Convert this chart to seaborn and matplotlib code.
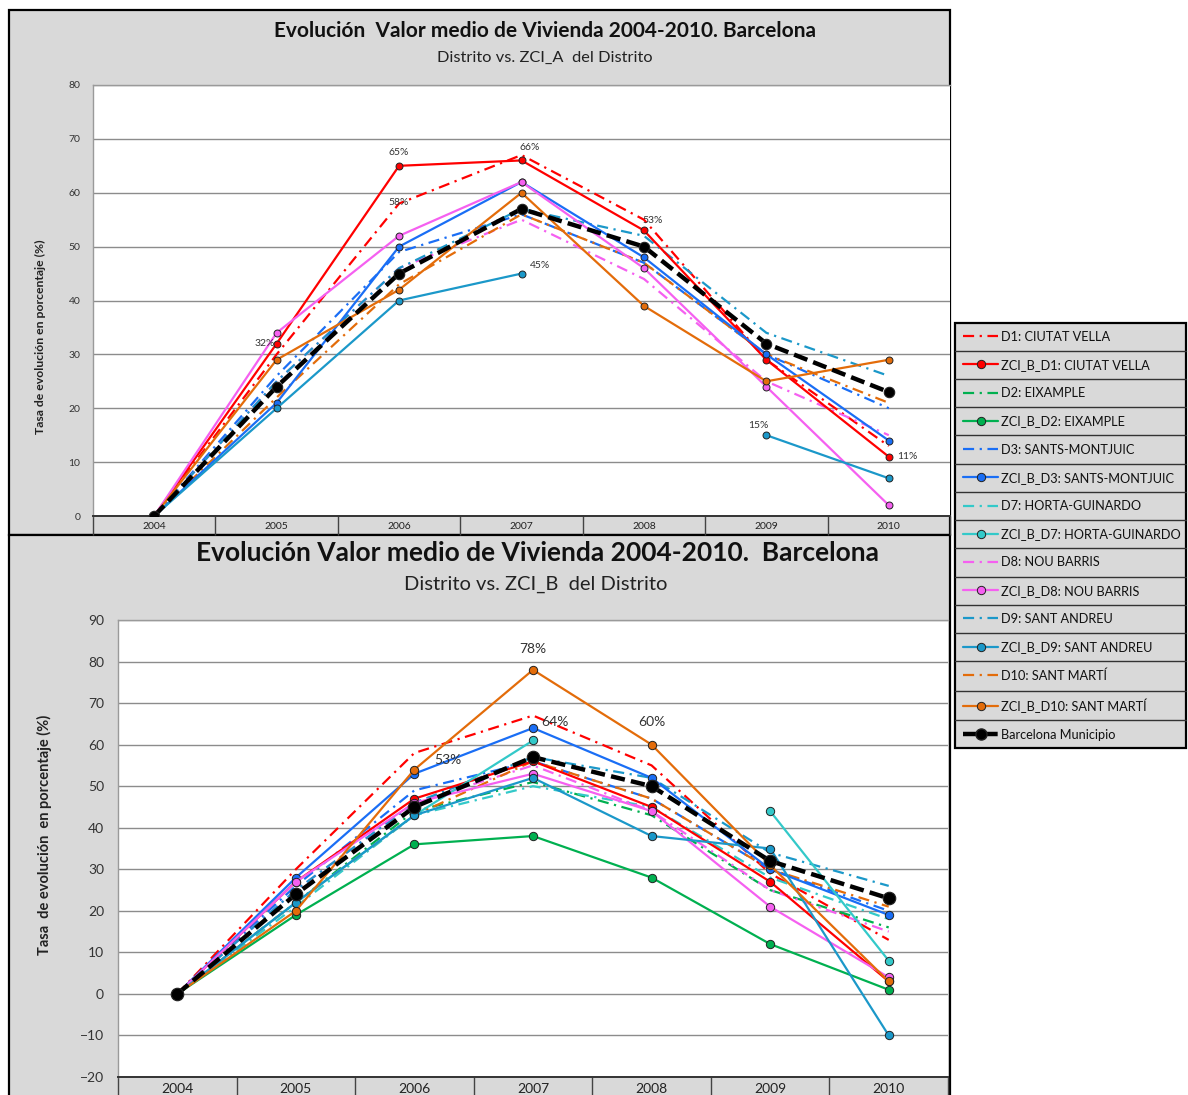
import numpy as np
import pandas as pd
import matplotlib
matplotlib.use("Agg")
import matplotlib.pyplot as plt
import seaborn as sns
from matplotlib.lines import Line2D
from matplotlib.patches import Rectangle

nan = np.nan
years = ["2004", "2005", "2006", "2007", "2008", "2009", "2010"]

# District series (shared in both charts)
D1 = [0, 30, 58, 67, 55, 29, 13]
D2 = [0, 22, 44, 51, 43, 25, 16]
D3 = [0, 26, 49, 56, 47, 30, 20]
D7 = [0, 21, 43, 50, 45, 28, 18]
D8 = [0, 25, 46, 55, 44, 25, 15]
D9 = [0, 25, 46, 57, 52, 34, 26]
D10 = [0, 22, 43, 56, 47, 30, 21]
BCN = [0, 24, 45, 57, 50, 32, 23]

# ZCI_A (top chart)
ZA_D1 = [0, 32, 65, 66, 53, 29, 11]
ZA_D3 = [0, 21, 50, 62, 48, 30, 14]
ZA_D8 = [0, 34, 52, 62, 46, 24, 2]
ZA_D9 = [0, 20, 40, 45, nan, 15, 7]
ZA_D10 = [0, 29, 42, 60, 39, 25, 29]

# ZCI_B (bottom chart)
ZB_D1 = [0, 27, 47, 56, 45, 27, 3]
ZB_D2 = [0, 19, 36, 38, 28, 12, 1]
ZB_D3 = [0, 28, 53, 64, 52, 30, 19]
ZB_D7 = [0, 22, 43, 61, nan, 44, 8]
ZB_D8 = [0, 27, 46, 53, 44, 21, 4]
ZB_D9 = [0, 22, 43, 52, 38, 35, -10]
ZB_D10 = [0, 20, 54, 78, 60, 31, 3]

legend_labels = ["D1: CIUTAT VELLA", "ZCI_B_D1: CIUTAT VELLA", "D2: EIXAMPLE",
                 "ZCI_B_D2: EIXAMPLE", "D3: SANTS-MONTJUIC", "ZCI_B_D3: SANTS-MONTJUIC",
                 "D7: HORTA-GUINARDO", "ZCI_B_D7: HORTA-GUINARDO", "D8: NOU BARRIS",
                 "ZCI_B_D8: NOU BARRIS", "D9: SANT ANDREU", "ZCI_B_D9: SANT ANDREU",
                 "D10: SANT MARTÍ", "ZCI_B_D10: SANT MARTÍ", "Barcelona Municipio"]

C = {"D1": "#ff0000", "D2": "#00b050", "D3": "#1a6ef5", "D7": "#33c9c9",
     "D8": "#f560f0", "D9": "#1b98c9", "D10": "#e36c0a"}

sns.set_theme(style="white")
plt.rcParams["font.family"] = ["Lato", "DejaVu Sans"]

W, H = 1188, 1095
fig = plt.figure(figsize=(W / 100, H / 100), dpi=100, facecolor="white")
GRAY = "#d9d9d9"
fig.patches.append(Rectangle((9 / W, 1 - 535 / H), 941 / W, 525 / H, transform=fig.transFigure,
                             fc=GRAY, ec="black", lw=1.6, zorder=-5))
fig.patches.append(Rectangle((9 / W, -0.01), 941 / W, (H - 535) / H + 0.01, transform=fig.transFigure,
                             fc=GRAY, ec="black", lw=1.6, zorder=-5))

DASHDOT = (0, (5, 2.5, 1, 2.5))
BDASH = (0, (3.2, 1.4))


def segments(vals):
    s = pd.Series(vals, dtype=float)
    m = s.notna()
    grp = (m != m.shift()).cumsum()
    for _, seg in s[m].groupby(grp[m]):
        yield pd.DataFrame({"x": seg.index.astype(float), "y": seg.values})


def draw_district(ax, vals, color):
    for df in segments(vals):
        sns.lineplot(data=df, x="x", y="y", ax=ax, color=color, lw=1.6,
                     linestyle=DASHDOT, legend=False, zorder=3)


def draw_zci(ax, vals, color, ms):
    for df in segments(vals):
        sns.lineplot(data=df, x="x", y="y", ax=ax, color=color, lw=1.6, marker="o",
                     markersize=ms, markerfacecolor=color, markeredgecolor="#222222",
                     markeredgewidth=0.7, legend=False, zorder=4)


def draw_bcn(ax, vals, ms):
    for df in segments(vals):
        sns.lineplot(data=df, x="x", y="y", ax=ax, color="black", lw=3.2, linestyle=BDASH,
                     marker="o", markersize=ms, markerfacecolor="black",
                     markeredgecolor="#222222", markeredgewidth=0.8, legend=False, zorder=6)


def style_axes(ax, ylo, yhi, ystep, xmax, tick_fs, ytick_pad, row_len, xpad):
    ax.set_facecolor("white")
    ax.set_xlim(-0.5, xmax)
    ax.set_ylim(ylo, yhi)
    ax.set_yticks(np.arange(ylo, yhi + 1, ystep))
    ax.yaxis.grid(True, color="#8c8c8c", lw=1.0)
    ax.xaxis.grid(False)
    ax.set_axisbelow(True)
    ax.set_xticks(range(len(years)))
    ax.set_xticklabels(years)
    ax.set_xticks(np.arange(-0.5, len(years), 1.0), minor=True)
    ax.tick_params(axis="x", which="major", bottom=True, length=0, labelsize=tick_fs, pad=xpad,
                   colors="#222222")
    ax.tick_params(axis="x", which="minor", bottom=True, length=row_len, width=1.0,
                   color="#444444", direction="out")
    ax.tick_params(axis="y", length=0, labelsize=tick_fs, pad=ytick_pad, colors="#333333")
    for side in ["top", "left"]:
        ax.spines[side].set_color("#9a9a9a")
        ax.spines[side].set_linewidth(1.0)
    ax.spines["right"].set_visible(False)
    ax.spines["bottom"].set_color("#333333")
    ax.spines["bottom"].set_linewidth(1.4)
    ax.set_xlabel("")


def ann(ax, x, vals, dx, dy, ha, va, fs):
    ax.annotate(f"{vals[x]:.0f}%", xy=(x, vals[x]), xytext=(dx, dy), textcoords="offset points",
                ha=ha, va=va, fontsize=fs, color="#333333", zorder=8)


# ---------------- top chart ----------------
ax1 = fig.add_axes([93 / W, 1 - 516 / H, (950 - 93) / W, (516 - 85) / H])
draw_district(ax1, D1, C["D1"])
draw_zci(ax1, ZA_D1, C["D1"], 5)
draw_district(ax1, D3, C["D3"])
draw_zci(ax1, ZA_D3, C["D3"], 5)
draw_district(ax1, D8, C["D8"])
draw_zci(ax1, ZA_D8, C["D8"], 5)
draw_district(ax1, D9, C["D9"])
draw_zci(ax1, ZA_D9, C["D9"], 5)
draw_district(ax1, D10, C["D10"])
draw_zci(ax1, ZA_D10, C["D10"], 5)
draw_bcn(ax1, BCN, 7.5)
style_axes(ax1, 0, 80, 10, 6.32, 7.5, 9, 14, 4)
ax1.set_ylabel("Tasa de evolución en porcentaje (%)", fontsize=8.8, fontweight="bold", color="#222222")
ax1.yaxis.set_label_coords(-0.055, 0.415)

afs1 = 7.5
ann(ax1, 2, ZA_D1, 0, 6, "center", "bottom", afs1)
ann(ax1, 3, ZA_D1, 6, 6, "center", "bottom", afs1)
ann(ax1, 2, D1, 0, 1, "center", "center", afs1)
ann(ax1, 4, ZA_D1, 6, 7, "center", "center", afs1)
ann(ax1, 1, ZA_D1, -1, 0, "right", "center", afs1)
ann(ax1, 3, ZA_D9, 6, 6, "left", "center", afs1)
ann(ax1, 5, ZA_D9, -6, 7, "center", "center", afs1)
ann(ax1, 6, ZA_D1, 6, 0, "left", "center", afs1)

# ---------------- bottom chart ----------------
ax2 = fig.add_axes([118 / W, 1 - 1077 / H, (948 - 118) / W, (1077 - 620) / H])
draw_district(ax2, D1, C["D1"])
draw_zci(ax2, ZB_D1, C["D1"], 6)
draw_district(ax2, D2, C["D2"])
draw_zci(ax2, ZB_D2, C["D2"], 6)
draw_district(ax2, D3, C["D3"])
draw_zci(ax2, ZB_D3, C["D3"], 6)
draw_district(ax2, D7, C["D7"])
draw_zci(ax2, ZB_D7, C["D7"], 6)
draw_district(ax2, D8, C["D8"])
draw_zci(ax2, ZB_D8, C["D8"], 6)
draw_district(ax2, D9, C["D9"])
draw_zci(ax2, ZB_D9, C["D9"], 6)
draw_district(ax2, D10, C["D10"])
draw_zci(ax2, ZB_D10, C["D10"], 6)
draw_bcn(ax2, BCN, 9)
style_axes(ax2, -20, 90, 10, 6.18, 10, 10, 20, 4.5)
ax2.set_ylabel("Tasa  de evolución  en porcentaje (%)", fontsize=10.5, fontweight="bold", color="#222222")
ax2.yaxis.set_label_coords(-0.0795, 0.53)

afs2 = 10
ann(ax2, 3, ZB_D10, 0, 15, "center", "center", afs2)
ann(ax2, 3, ZB_D3, 6, 4, "left", "center", afs2)
ann(ax2, 2, ZB_D3, 14, 10, "left", "center", afs2)
ann(ax2, 4, ZB_D10, 0, 16, "center", "center", afs2)

# ---------------- titles ----------------
fig.text(545 / W, 1 - 31 / H, "Evolución  Valor medio de Vivienda 2004-2010. Barcelona",
         ha="center", va="center", fontsize=15, fontweight="bold", color="#111111")
fig.text(545 / W, 1 - 58 / H, "Distrito vs. ZCI_A  del Distrito",
         ha="center", va="center", fontsize=11.8, color="#222222")
fig.text(537 / W, 1 - 553 / H, "Evolución Valor medio de Vivienda 2004-2010.  Barcelona",
         ha="center", va="center", fontsize=19, fontweight="bold", color="#111111")
fig.text(536 / W, 1 - 584 / H, "Distrito vs. ZCI_B  del Distrito",
         ha="center", va="center", fontsize=14.5, color="#222222")

# ---------------- legend ----------------
handles = []
order = ["D1", "D2", "D3", "D7", "D8", "D9", "D10"]
for k in order:
    handles.append(Line2D([], [], color=C[k], lw=1.6, linestyle=DASHDOT))
    handles.append(Line2D([], [], color=C[k], lw=1.6, marker="o", markersize=6,
                          markerfacecolor=C[k], markeredgecolor="#222222", markeredgewidth=0.7))
handles.append(Line2D([], [], color="black", lw=3.2, linestyle=BDASH, marker="o", markersize=8,
                      markerfacecolor="black", markeredgecolor="#222222"))
leg = fig.legend(handles, legend_labels, loc="upper left",
                 bbox_to_anchor=(955 / W, 1 - 323 / H, 231 / W, 0), bbox_transform=fig.transFigure,
                 mode="expand",
                 fontsize=9.2, frameon=True, fancybox=False, facecolor=GRAY, edgecolor="black",
                 handlelength=2.8, handletextpad=0.2, labelspacing=1.27, borderpad=0.6,
                 borderaxespad=0.0, framealpha=1.0)
leg.get_frame().set_linewidth(1.6)
for t in leg.get_texts():
    t.set_color("#111111")

fig.canvas.draw()
texts = leg.get_texts()
fb = leg.get_frame().get_window_extent()
centers = [t.get_window_extent().y0 + t.get_window_extent().height / 2 for t in texts]
for a, b in zip(centers[:-1], centers[1:]):
    ym = (a + b) / 2
    fig.lines.append(Line2D([fb.x0 / W, fb.x1 / W], [ym / H, ym / H], transform=fig.transFigure,
                            color="#333333", lw=1.0, zorder=10))

fig.savefig("out.png", dpi=100, facecolor="white")
